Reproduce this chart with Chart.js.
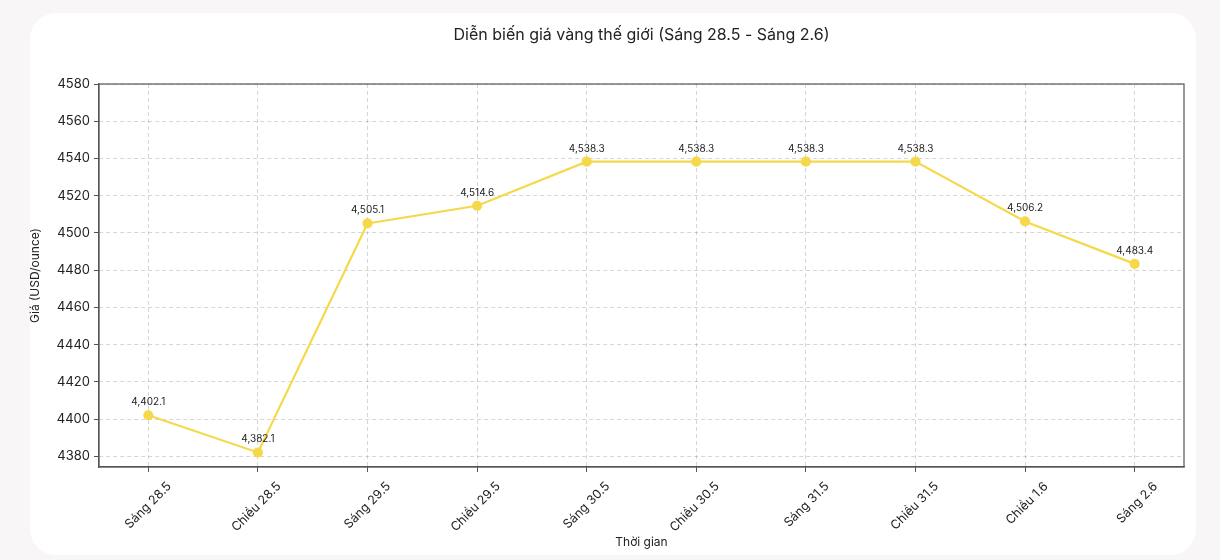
<!DOCTYPE html>
<html lang="vi">
<head>
<meta charset="utf-8">
<title>Diễn biến giá vàng thế giới</title>
<script src="https://cdn.jsdelivr.net/npm/chart.js@4/dist/chart.umd.min.js"></script>
<style>
    html, body { margin: 0; padding: 0; background: #f8f6f7; }
    #card { position: absolute; left: 30px; top: 13px; width: 1166px; height: 542px;
            background: #fff; border-radius: 26px; }
    #wrap { position: absolute; left: 0; top: 0; width: 1220px; height: 560px; }
</style>
</head>
<body>
<div id="card"></div>
<div id="wrap"><canvas id="goldChart"></canvas></div>
<script>
'use strict';

/* ───── DATA ─────────────────────────────────────────────────────────── */
const sessions = ['Sáng 28.5', 'Chiều 28.5', 'Sáng 29.5', 'Chiều 29.5', 'Sáng 30.5',
                  'Chiều 30.5', 'Sáng 31.5', 'Chiều 31.5', 'Chiều 1.6', 'Sáng 2.6'];
const prices   = [4402.1, 4382.1, 4505.1, 4514.6, 4538.3, 4538.3, 4538.3, 4538.3, 4506.2, 4483.4];
const yTicks   = [4380, 4400, 4420, 4440, 4460, 4480, 4500, 4520, 4540, 4560, 4580];

const FONT  = 'Inter, "Noto Sans", sans-serif';
const GOLD  = '#f5d94a';
const AXIS  = '#555';
const GRID  = 'rgba(0,0,0,.16)';

/* ───── PLUGINS ──────────────────────────────────────────────────────── */
const titlePlugin = {
    id: 'topTitle',
    afterDraw(chart) {
        const { ctx, chartArea: { left, right } } = chart;
        ctx.save();
        ctx.fillStyle = '#222';
        ctx.font = `16px ${FONT}`;
        ctx.textAlign = 'center';
        ctx.textBaseline = 'middle';
        ctx.fillText('Diễn biến giá vàng thế giới (Sáng 28.5 - Sáng 2.6)', (left + right) / 2, 35);
        ctx.restore();
    },
};

const framePlugin = {
    id: 'frame',
    afterDatasetsDraw(chart) {
        const { ctx, chartArea: { left, right, top, bottom } } = chart;
        ctx.save();
        ctx.strokeStyle = AXIS;
        ctx.lineWidth = 1.2;
        ctx.strokeRect(left, top, right - left, bottom - top);
        ctx.restore();
    },
};

const valueLabels = {
    id: 'valueLabels',
    afterDatasetsDraw(chart) {
        const { ctx } = chart;
        const meta = chart.getDatasetMeta(0);
        ctx.save();
        ctx.fillStyle = '#222';
        ctx.font = `10px ${FONT}`;
        ctx.textAlign = 'center';
        ctx.textBaseline = 'middle';
        meta.data.forEach((pt, i) => {
            const txt = prices[i].toLocaleString('en-US', { minimumFractionDigits: 1, maximumFractionDigits: 1 });
            ctx.fillText(txt, pt.x, pt.y - 13);
        });
        ctx.restore();
    },
};

/* ───── CHART ────────────────────────────────────────────────────────── */
new Chart(document.getElementById('goldChart').getContext('2d'), {
    type: 'line',
    data: {
        datasets: [{
            label: 'Giá vàng',
            data: prices.map((v, i) => ({ x: i, y: v })),
            borderColor: GOLD, backgroundColor: GOLD,
            pointBackgroundColor: GOLD, pointBorderColor: GOLD,
            borderWidth: 2.2, pointRadius: 4, tension: 0,
        }],
    },
    options: {
        responsive: true, maintainAspectRatio: false, animation: false,
        layout: { padding: { top: 84, right: 36, left: 0, bottom: 0 } },
        plugins: { legend: { display: false }, tooltip: { enabled: false } },
        scales: {
            x: {
                type: 'linear', min: -0.45, max: sessions.length - 0.55,
                afterBuildTicks: ax => { ax.ticks = sessions.map((_, i) => ({ value: i })); },
                afterFit: ax => { ax.height = 93; },
                ticks: {
                    callback: v => sessions[v], autoSkip: false,
                    maxRotation: 45, minRotation: 45, labelOffset: 21, padding: 7,
                    color: '#222', font: { family: FONT, size: 12.5 },
                },
                grid: { color: GRID, tickColor: AXIS, tickLength: 5, tickBorderDash: [], drawTicks: true },
                border: { color: AXIS, width: 1.2, dash: [4, 3] },
                title: { display: true, text: 'Thời gian', color: '#222', font: { family: FONT, size: 12 }, padding: { top: 0, bottom: 10 } },
            },
            y: {
                min: 4374.3, max: 4580,
                afterBuildTicks: ax => { ax.ticks = yTicks.map(v => ({ value: v })); },
                afterFit: ax => { ax.width = 99; },
                ticks: { color: '#222', padding: 4, callback: v => String(v), font: { family: FONT, size: 13 } },
                grid: { color: GRID, tickColor: AXIS, tickLength: 5, tickBorderDash: [] },
                border: { color: AXIS, width: 1.2, dash: [4, 3] },
                title: { display: true, text: 'Giá (USD/ounce)', color: '#222', font: { family: FONT, size: 12 }, padding: { top: 28, bottom: 0 } },
            },
        },
    },
    plugins: [framePlugin, valueLabels, titlePlugin],
});
</script>
</body>
</html>
